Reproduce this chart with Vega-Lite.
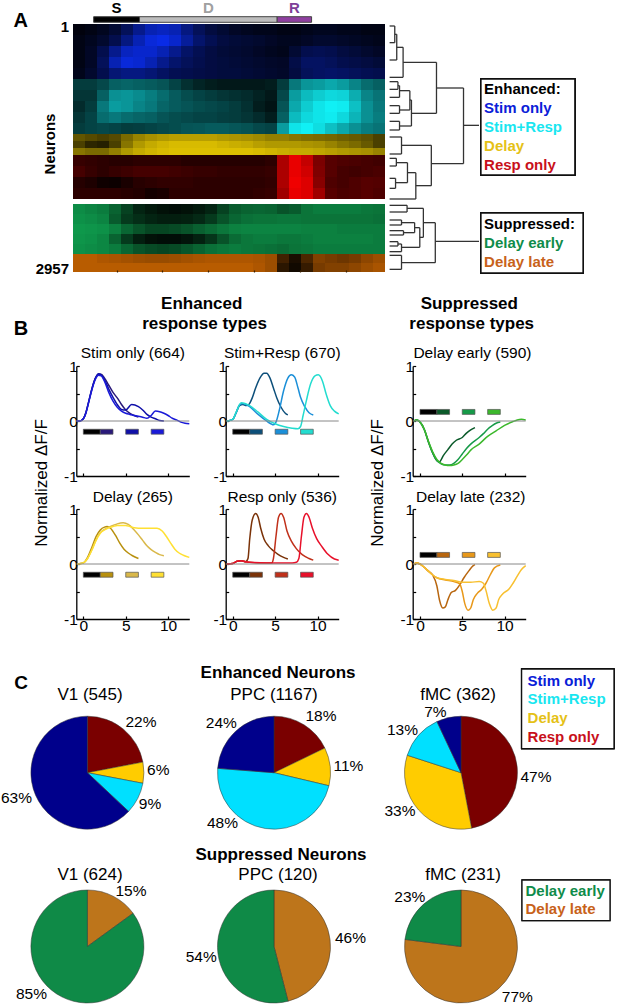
{"$schema":"https://vega.github.io/schema/vega-lite/v6.json","width":617,"height":1008,"padding":0,"autosize":{"type":"none"},"background":"white",
"config":{"font":"Liberation Sans","view":{"stroke":null},"text":{"font":"Liberation Sans","color":"#000","baseline":"middle"},"axis":{"grid":false,"domainColor":"#000","domainWidth":1.3,"tickColor":"#000","tickWidth":1.2,"labelColor":"#000","labelFont":"Liberation Sans","labelFontSize":15.5,"title":null}},
"datasets":{
"epochs":[{"name":"S","s":0,"e":2,"mid":1},{"name":"D","s":2,"e":8,"mid":5},{"name":"R","s":8,"e":9.5,"mid":8.75}],
"B":[
{"r":1,"t":1,"v":5},{"r":1,"t":2,"v":8},{"r":1,"t":3,"v":12},{"r":1,"t":4,"v":20},{"r":1,"t":5,"v":35},{"r":1,"t":6,"v":55},{"r":1,"t":7,"v":70},{"r":1,"t":8,"v":75},{"r":1,"t":9,"v":70},{"r":1,"t":10,"v":50},{"r":1,"t":11,"v":35},{"r":1,"t":12,"v":25},{"r":1,"t":13,"v":20},{"r":1,"t":14,"v":15},{"r":1,"t":15,"v":12},{"r":1,"t":16,"v":10},{"r":1,"t":17,"v":10},{"r":1,"t":18,"v":8},{"r":1,"t":19,"v":8},{"r":1,"t":20,"v":10},{"r":1,"t":21,"v":12},{"r":1,"t":22,"v":12},{"r":1,"t":23,"v":10},{"r":1,"t":24,"v":10},{"r":1,"t":25,"v":8},{"r":1,"t":26,"v":8},
{"r":2,"t":1,"v":8},{"r":2,"t":2,"v":12},{"r":2,"t":3,"v":18},{"r":2,"t":4,"v":30},{"r":2,"t":5,"v":50},{"r":2,"t":6,"v":70},{"r":2,"t":7,"v":85},{"r":2,"t":8,"v":90},{"r":2,"t":9,"v":80},{"r":2,"t":10,"v":60},{"r":2,"t":11,"v":42},{"r":2,"t":12,"v":32},{"r":2,"t":13,"v":25},{"r":2,"t":14,"v":22},{"r":2,"t":15,"v":20},{"r":2,"t":16,"v":18},{"r":2,"t":17,"v":15},{"r":2,"t":18,"v":12},{"r":2,"t":19,"v":12},{"r":2,"t":20,"v":15},{"r":2,"t":21,"v":18},{"r":2,"t":22,"v":18},{"r":2,"t":23,"v":16},{"r":2,"t":24,"v":14},{"r":2,"t":25,"v":12},{"r":2,"t":26,"v":10},
{"r":3,"t":1,"v":8},{"r":3,"t":2,"v":15},{"r":3,"t":3,"v":30},{"r":3,"t":4,"v":55},{"r":3,"t":5,"v":75},{"r":3,"t":6,"v":80},{"r":3,"t":7,"v":80},{"r":3,"t":8,"v":70},{"r":3,"t":9,"v":55},{"r":3,"t":10,"v":40},{"r":3,"t":11,"v":32},{"r":3,"t":12,"v":26},{"r":3,"t":13,"v":22},{"r":3,"t":14,"v":20},{"r":3,"t":15,"v":18},{"r":3,"t":16,"v":15},{"r":3,"t":17,"v":12},{"r":3,"t":18,"v":10},{"r":3,"t":19,"v":20},{"r":3,"t":20,"v":30},{"r":3,"t":21,"v":32},{"r":3,"t":22,"v":30},{"r":3,"t":23,"v":25},{"r":3,"t":24,"v":22},{"r":3,"t":25,"v":18},{"r":3,"t":26,"v":15},
{"r":4,"t":1,"v":8},{"r":4,"t":2,"v":15},{"r":4,"t":3,"v":35},{"r":4,"t":4,"v":70},{"r":4,"t":5,"v":85},{"r":4,"t":6,"v":82},{"r":4,"t":7,"v":70},{"r":4,"t":8,"v":55},{"r":4,"t":9,"v":42},{"r":4,"t":10,"v":35},{"r":4,"t":11,"v":30},{"r":4,"t":12,"v":26},{"r":4,"t":13,"v":24},{"r":4,"t":14,"v":22},{"r":4,"t":15,"v":20},{"r":4,"t":16,"v":18},{"r":4,"t":17,"v":16},{"r":4,"t":18,"v":15},{"r":4,"t":19,"v":28},{"r":4,"t":20,"v":38},{"r":4,"t":21,"v":38},{"r":4,"t":22,"v":35},{"r":4,"t":23,"v":30},{"r":4,"t":24,"v":28},{"r":4,"t":25,"v":25},{"r":4,"t":26,"v":22},
{"r":5,"t":1,"v":10},{"r":5,"t":2,"v":18},{"r":5,"t":3,"v":30},{"r":5,"t":4,"v":45},{"r":5,"t":5,"v":50},{"r":5,"t":6,"v":50},{"r":5,"t":7,"v":45},{"r":5,"t":8,"v":38},{"r":5,"t":9,"v":32},{"r":5,"t":10,"v":30},{"r":5,"t":11,"v":28},{"r":5,"t":12,"v":26},{"r":5,"t":13,"v":24},{"r":5,"t":14,"v":24},{"r":5,"t":15,"v":22},{"r":5,"t":16,"v":20},{"r":5,"t":17,"v":18},{"r":5,"t":18,"v":16},{"r":5,"t":19,"v":25},{"r":5,"t":20,"v":35},{"r":5,"t":21,"v":38},{"r":5,"t":22,"v":40},{"r":5,"t":23,"v":38},{"r":5,"t":24,"v":35},{"r":5,"t":25,"v":32},{"r":5,"t":26,"v":30}],
"C":[
{"r":1,"t":1,"v":25},{"r":1,"t":2,"v":25},{"r":1,"t":3,"v":30},{"r":1,"t":4,"v":40},{"r":1,"t":5,"v":42},{"r":1,"t":6,"v":40},{"r":1,"t":7,"v":38},{"r":1,"t":8,"v":35},{"r":1,"t":9,"v":28},{"r":1,"t":10,"v":20},{"r":1,"t":11,"v":15},{"r":1,"t":12,"v":12},{"r":1,"t":13,"v":10},{"r":1,"t":14,"v":10},{"r":1,"t":15,"v":10},{"r":1,"t":16,"v":10},{"r":1,"t":17,"v":12},{"r":1,"t":18,"v":25},{"r":1,"t":19,"v":50},{"r":1,"t":20,"v":62},{"r":1,"t":21,"v":65},{"r":1,"t":22,"v":70},{"r":1,"t":23,"v":65},{"r":1,"t":24,"v":55},{"r":1,"t":25,"v":45},{"r":1,"t":26,"v":40},
{"r":2,"t":1,"v":22},{"r":2,"t":2,"v":22},{"r":2,"t":3,"v":40},{"r":2,"t":4,"v":60},{"r":2,"t":5,"v":62},{"r":2,"t":6,"v":58},{"r":2,"t":7,"v":52},{"r":2,"t":8,"v":45},{"r":2,"t":9,"v":38},{"r":2,"t":10,"v":32},{"r":2,"t":11,"v":28},{"r":2,"t":12,"v":25},{"r":2,"t":13,"v":22},{"r":2,"t":14,"v":20},{"r":2,"t":15,"v":18},{"r":2,"t":16,"v":14},{"r":2,"t":17,"v":10},{"r":2,"t":18,"v":30},{"r":2,"t":19,"v":65},{"r":2,"t":20,"v":78},{"r":2,"t":21,"v":85},{"r":2,"t":22,"v":90},{"r":2,"t":23,"v":88},{"r":2,"t":24,"v":72},{"r":2,"t":25,"v":55},{"r":2,"t":26,"v":48},
{"r":3,"t":1,"v":18},{"r":3,"t":2,"v":25},{"r":3,"t":3,"v":50},{"r":3,"t":4,"v":65},{"r":3,"t":5,"v":62},{"r":3,"t":6,"v":55},{"r":3,"t":7,"v":50},{"r":3,"t":8,"v":42},{"r":3,"t":9,"v":38},{"r":3,"t":10,"v":35},{"r":3,"t":11,"v":32},{"r":3,"t":12,"v":30},{"r":3,"t":13,"v":28},{"r":3,"t":14,"v":25},{"r":3,"t":15,"v":20},{"r":3,"t":16,"v":12},{"r":3,"t":17,"v":8},{"r":3,"t":18,"v":35},{"r":3,"t":19,"v":70},{"r":3,"t":20,"v":85},{"r":3,"t":21,"v":95},{"r":3,"t":22,"v":100},{"r":3,"t":23,"v":98},{"r":3,"t":24,"v":80},{"r":3,"t":25,"v":60},{"r":3,"t":26,"v":50},
{"r":4,"t":1,"v":22},{"r":4,"t":2,"v":28},{"r":4,"t":3,"v":45},{"r":4,"t":4,"v":50},{"r":4,"t":5,"v":45},{"r":4,"t":6,"v":42},{"r":4,"t":7,"v":40},{"r":4,"t":8,"v":35},{"r":4,"t":9,"v":32},{"r":4,"t":10,"v":30},{"r":4,"t":11,"v":28},{"r":4,"t":12,"v":28},{"r":4,"t":13,"v":26},{"r":4,"t":14,"v":25},{"r":4,"t":15,"v":22},{"r":4,"t":16,"v":18},{"r":4,"t":17,"v":12},{"r":4,"t":18,"v":40},{"r":4,"t":19,"v":78},{"r":4,"t":20,"v":90},{"r":4,"t":21,"v":95},{"r":4,"t":22,"v":98},{"r":4,"t":23,"v":90},{"r":4,"t":24,"v":75},{"r":4,"t":25,"v":60},{"r":4,"t":26,"v":52},
{"r":5,"t":1,"v":25},{"r":5,"t":2,"v":28},{"r":5,"t":3,"v":30},{"r":5,"t":4,"v":28},{"r":5,"t":5,"v":25},{"r":5,"t":6,"v":26},{"r":5,"t":7,"v":28},{"r":5,"t":8,"v":30},{"r":5,"t":9,"v":32},{"r":5,"t":10,"v":35},{"r":5,"t":11,"v":36},{"r":5,"t":12,"v":38},{"r":5,"t":13,"v":38},{"r":5,"t":14,"v":36},{"r":5,"t":15,"v":34},{"r":5,"t":16,"v":30},{"r":5,"t":17,"v":28},{"r":5,"t":18,"v":65},{"r":5,"t":19,"v":95},{"r":5,"t":20,"v":100},{"r":5,"t":21,"v":92},{"r":5,"t":22,"v":80},{"r":5,"t":23,"v":70},{"r":5,"t":24,"v":60},{"r":5,"t":25,"v":52},{"r":5,"t":26,"v":48}],
"Y":[
{"r":1,"t":1,"v":40},{"r":1,"t":2,"v":35},{"r":1,"t":3,"v":30},{"r":1,"t":4,"v":35},{"r":1,"t":5,"v":50},{"r":1,"t":6,"v":62},{"r":1,"t":7,"v":68},{"r":1,"t":8,"v":72},{"r":1,"t":9,"v":75},{"r":1,"t":10,"v":75},{"r":1,"t":11,"v":75},{"r":1,"t":12,"v":75},{"r":1,"t":13,"v":72},{"r":1,"t":14,"v":70},{"r":1,"t":15,"v":68},{"r":1,"t":16,"v":65},{"r":1,"t":17,"v":60},{"r":1,"t":18,"v":60},{"r":1,"t":19,"v":55},{"r":1,"t":20,"v":52},{"r":1,"t":21,"v":50},{"r":1,"t":22,"v":48},{"r":1,"t":23,"v":45},{"r":1,"t":24,"v":42},{"r":1,"t":25,"v":38},{"r":1,"t":26,"v":30},
{"r":2,"t":1,"v":30},{"r":2,"t":2,"v":18},{"r":2,"t":3,"v":15},{"r":2,"t":4,"v":30},{"r":2,"t":5,"v":55},{"r":2,"t":6,"v":72},{"r":2,"t":7,"v":80},{"r":2,"t":8,"v":85},{"r":2,"t":9,"v":88},{"r":2,"t":10,"v":88},{"r":2,"t":11,"v":88},{"r":2,"t":12,"v":88},{"r":2,"t":13,"v":85},{"r":2,"t":14,"v":82},{"r":2,"t":15,"v":80},{"r":2,"t":16,"v":75},{"r":2,"t":17,"v":72},{"r":2,"t":18,"v":72},{"r":2,"t":19,"v":72},{"r":2,"t":20,"v":70},{"r":2,"t":21,"v":68},{"r":2,"t":22,"v":62},{"r":2,"t":23,"v":55},{"r":2,"t":24,"v":50},{"r":2,"t":25,"v":42},{"r":2,"t":26,"v":30},
{"r":3,"t":1,"v":55},{"r":3,"t":2,"v":50},{"r":3,"t":3,"v":50},{"r":3,"t":4,"v":60},{"r":3,"t":5,"v":72},{"r":3,"t":6,"v":80},{"r":3,"t":7,"v":85},{"r":3,"t":8,"v":88},{"r":3,"t":9,"v":90},{"r":3,"t":10,"v":90},{"r":3,"t":11,"v":90},{"r":3,"t":12,"v":90},{"r":3,"t":13,"v":90},{"r":3,"t":14,"v":90},{"r":3,"t":15,"v":90},{"r":3,"t":16,"v":88},{"r":3,"t":17,"v":85},{"r":3,"t":18,"v":82},{"r":3,"t":19,"v":80},{"r":3,"t":20,"v":80},{"r":3,"t":21,"v":78},{"r":3,"t":22,"v":75},{"r":3,"t":23,"v":72},{"r":3,"t":24,"v":70},{"r":3,"t":25,"v":68},{"r":3,"t":26,"v":62}],
"R":[
{"r":1,"t":1,"v":22},{"r":1,"t":2,"v":20},{"r":1,"t":3,"v":18},{"r":1,"t":4,"v":16},{"r":1,"t":5,"v":16},{"r":1,"t":6,"v":18},{"r":1,"t":7,"v":18},{"r":1,"t":8,"v":18},{"r":1,"t":9,"v":18},{"r":1,"t":10,"v":15},{"r":1,"t":11,"v":15},{"r":1,"t":12,"v":15},{"r":1,"t":13,"v":15},{"r":1,"t":14,"v":15},{"r":1,"t":15,"v":15},{"r":1,"t":16,"v":15},{"r":1,"t":17,"v":18},{"r":1,"t":18,"v":70},{"r":1,"t":19,"v":95},{"r":1,"t":20,"v":80},{"r":1,"t":21,"v":50},{"r":1,"t":22,"v":35},{"r":1,"t":23,"v":32},{"r":1,"t":24,"v":30},{"r":1,"t":25,"v":28},{"r":1,"t":26,"v":26},
{"r":2,"t":1,"v":28},{"r":2,"t":2,"v":22},{"r":2,"t":3,"v":18},{"r":2,"t":4,"v":22},{"r":2,"t":5,"v":25},{"r":2,"t":6,"v":28},{"r":2,"t":7,"v":28},{"r":2,"t":8,"v":28},{"r":2,"t":9,"v":26},{"r":2,"t":10,"v":24},{"r":2,"t":11,"v":22},{"r":2,"t":12,"v":22},{"r":2,"t":13,"v":20},{"r":2,"t":14,"v":20},{"r":2,"t":15,"v":20},{"r":2,"t":16,"v":20},{"r":2,"t":17,"v":22},{"r":2,"t":18,"v":70},{"r":2,"t":19,"v":95},{"r":2,"t":20,"v":85},{"r":2,"t":21,"v":52},{"r":2,"t":22,"v":35},{"r":2,"t":23,"v":28},{"r":2,"t":24,"v":26},{"r":2,"t":25,"v":28},{"r":2,"t":26,"v":30},
{"r":3,"t":1,"v":15},{"r":3,"t":2,"v":12},{"r":3,"t":3,"v":6},{"r":3,"t":4,"v":5},{"r":3,"t":5,"v":10},{"r":3,"t":6,"v":16},{"r":3,"t":7,"v":18},{"r":3,"t":8,"v":20},{"r":3,"t":9,"v":20},{"r":3,"t":10,"v":20},{"r":3,"t":11,"v":18},{"r":3,"t":12,"v":18},{"r":3,"t":13,"v":18},{"r":3,"t":14,"v":18},{"r":3,"t":15,"v":18},{"r":3,"t":16,"v":18},{"r":3,"t":17,"v":20},{"r":3,"t":18,"v":70},{"r":3,"t":19,"v":98},{"r":3,"t":20,"v":90},{"r":3,"t":21,"v":55},{"r":3,"t":22,"v":32},{"r":3,"t":23,"v":28},{"r":3,"t":24,"v":32},{"r":3,"t":25,"v":35},{"r":3,"t":26,"v":34},
{"r":4,"t":1,"v":18},{"r":4,"t":2,"v":18},{"r":4,"t":3,"v":18},{"r":4,"t":4,"v":18},{"r":4,"t":5,"v":16},{"r":4,"t":6,"v":14},{"r":4,"t":7,"v":8},{"r":4,"t":8,"v":10},{"r":4,"t":9,"v":18},{"r":4,"t":10,"v":18},{"r":4,"t":11,"v":18},{"r":4,"t":12,"v":18},{"r":4,"t":13,"v":18},{"r":4,"t":14,"v":18},{"r":4,"t":15,"v":18},{"r":4,"t":16,"v":20},{"r":4,"t":17,"v":22},{"r":4,"t":18,"v":65},{"r":4,"t":19,"v":95},{"r":4,"t":20,"v":90},{"r":4,"t":21,"v":65},{"r":4,"t":22,"v":35},{"r":4,"t":23,"v":30},{"r":4,"t":24,"v":32},{"r":4,"t":25,"v":35},{"r":4,"t":26,"v":32}],
"G":[
{"r":1,"t":1,"v":85},{"r":1,"t":2,"v":80},{"r":1,"t":3,"v":75},{"r":1,"t":4,"v":60},{"r":1,"t":5,"v":40},{"r":1,"t":6,"v":22},{"r":1,"t":7,"v":15},{"r":1,"t":8,"v":10},{"r":1,"t":9,"v":8},{"r":1,"t":10,"v":10},{"r":1,"t":11,"v":15},{"r":1,"t":12,"v":22},{"r":1,"t":13,"v":40},{"r":1,"t":14,"v":55},{"r":1,"t":15,"v":60},{"r":1,"t":16,"v":62},{"r":1,"t":17,"v":60},{"r":1,"t":18,"v":50},{"r":1,"t":19,"v":55},{"r":1,"t":20,"v":70},{"r":1,"t":21,"v":75},{"r":1,"t":22,"v":75},{"r":1,"t":23,"v":75},{"r":1,"t":24,"v":75},{"r":1,"t":25,"v":72},{"r":1,"t":26,"v":70},
{"r":2,"t":1,"v":88},{"r":2,"t":2,"v":85},{"r":2,"t":3,"v":80},{"r":2,"t":4,"v":55},{"r":2,"t":5,"v":35},{"r":2,"t":6,"v":28},{"r":2,"t":7,"v":22},{"r":2,"t":8,"v":18},{"r":2,"t":9,"v":18},{"r":2,"t":10,"v":20},{"r":2,"t":11,"v":25},{"r":2,"t":12,"v":35},{"r":2,"t":13,"v":50},{"r":2,"t":14,"v":62},{"r":2,"t":15,"v":68},{"r":2,"t":16,"v":70},{"r":2,"t":17,"v":70},{"r":2,"t":18,"v":72},{"r":2,"t":19,"v":72},{"r":2,"t":20,"v":70},{"r":2,"t":21,"v":70},{"r":2,"t":22,"v":70},{"r":2,"t":23,"v":70},{"r":2,"t":24,"v":70},{"r":2,"t":25,"v":70},{"r":2,"t":26,"v":68},
{"r":3,"t":1,"v":92},{"r":3,"t":2,"v":90},{"r":3,"t":3,"v":88},{"r":3,"t":4,"v":78},{"r":3,"t":5,"v":62},{"r":3,"t":6,"v":50},{"r":3,"t":7,"v":42},{"r":3,"t":8,"v":42},{"r":3,"t":9,"v":45},{"r":3,"t":10,"v":50},{"r":3,"t":11,"v":58},{"r":3,"t":12,"v":65},{"r":3,"t":13,"v":72},{"r":3,"t":14,"v":78},{"r":3,"t":15,"v":80},{"r":3,"t":16,"v":80},{"r":3,"t":17,"v":80},{"r":3,"t":18,"v":80},{"r":3,"t":19,"v":80},{"r":3,"t":20,"v":78},{"r":3,"t":21,"v":78},{"r":3,"t":22,"v":78},{"r":3,"t":23,"v":75},{"r":3,"t":24,"v":75},{"r":3,"t":25,"v":75},{"r":3,"t":26,"v":75},
{"r":4,"t":1,"v":90},{"r":4,"t":2,"v":88},{"r":4,"t":3,"v":82},{"r":4,"t":4,"v":60},{"r":4,"t":5,"v":35},{"r":4,"t":6,"v":18},{"r":4,"t":7,"v":10},{"r":4,"t":8,"v":8},{"r":4,"t":9,"v":8},{"r":4,"t":10,"v":12},{"r":4,"t":11,"v":20},{"r":4,"t":12,"v":32},{"r":4,"t":13,"v":50},{"r":4,"t":14,"v":65},{"r":4,"t":15,"v":72},{"r":4,"t":16,"v":75},{"r":4,"t":17,"v":75},{"r":4,"t":18,"v":72},{"r":4,"t":19,"v":72},{"r":4,"t":20,"v":75},{"r":4,"t":21,"v":78},{"r":4,"t":22,"v":78},{"r":4,"t":23,"v":78},{"r":4,"t":24,"v":78},{"r":4,"t":25,"v":78},{"r":4,"t":26,"v":75},
{"r":5,"t":1,"v":88},{"r":5,"t":2,"v":85},{"r":5,"t":3,"v":82},{"r":5,"t":4,"v":75},{"r":5,"t":5,"v":62},{"r":5,"t":6,"v":50},{"r":5,"t":7,"v":45},{"r":5,"t":8,"v":42},{"r":5,"t":9,"v":45},{"r":5,"t":10,"v":52},{"r":5,"t":11,"v":60},{"r":5,"t":12,"v":68},{"r":5,"t":13,"v":72},{"r":5,"t":14,"v":75},{"r":5,"t":15,"v":72},{"r":5,"t":16,"v":70},{"r":5,"t":17,"v":68},{"r":5,"t":18,"v":65},{"r":5,"t":19,"v":70},{"r":5,"t":20,"v":72},{"r":5,"t":21,"v":75},{"r":5,"t":22,"v":75},{"r":5,"t":23,"v":75},{"r":5,"t":24,"v":75},{"r":5,"t":25,"v":75},{"r":5,"t":26,"v":75}],
"O":[
{"r":1,"t":1,"v":85},{"r":1,"t":2,"v":85},{"r":1,"t":3,"v":80},{"r":1,"t":4,"v":78},{"r":1,"t":5,"v":75},{"r":1,"t":6,"v":72},{"r":1,"t":7,"v":70},{"r":1,"t":8,"v":70},{"r":1,"t":9,"v":72},{"r":1,"t":10,"v":75},{"r":1,"t":11,"v":78},{"r":1,"t":12,"v":80},{"r":1,"t":13,"v":80},{"r":1,"t":14,"v":80},{"r":1,"t":15,"v":80},{"r":1,"t":16,"v":78},{"r":1,"t":17,"v":72},{"r":1,"t":18,"v":30},{"r":1,"t":19,"v":12},{"r":1,"t":20,"v":35},{"r":1,"t":21,"v":60},{"r":1,"t":22,"v":55},{"r":1,"t":23,"v":50},{"r":1,"t":24,"v":55},{"r":1,"t":25,"v":65},{"r":1,"t":26,"v":72},
{"r":2,"t":1,"v":85},{"r":2,"t":2,"v":85},{"r":2,"t":3,"v":85},{"r":2,"t":4,"v":85},{"r":2,"t":5,"v":85},{"r":2,"t":6,"v":85},{"r":2,"t":7,"v":85},{"r":2,"t":8,"v":85},{"r":2,"t":9,"v":85},{"r":2,"t":10,"v":85},{"r":2,"t":11,"v":85},{"r":2,"t":12,"v":85},{"r":2,"t":13,"v":85},{"r":2,"t":14,"v":85},{"r":2,"t":15,"v":85},{"r":2,"t":16,"v":80},{"r":2,"t":17,"v":72},{"r":2,"t":18,"v":20},{"r":2,"t":19,"v":8},{"r":2,"t":20,"v":25},{"r":2,"t":21,"v":55},{"r":2,"t":22,"v":60},{"r":2,"t":23,"v":60},{"r":2,"t":24,"v":65},{"r":2,"t":25,"v":72},{"r":2,"t":26,"v":78}],
"dh":[{"a":982,"b":995,"c":78},{"a":982,"b":995,"c":128},{"a":995,"b":1000,"c":103},{"a":982,"b":1000,"c":180},{"a":1000,"b":1016,"c":142},{"a":982,"b":1016,"c":232},{"a":1016,"b":1100,"c":187},{"a":982,"b":1003,"c":245},{"a":982,"b":1003,"c":268},{"a":1003,"b":1007,"c":257},{"a":982,"b":1007,"c":292},{"a":982,"b":1007,"c":317},{"a":982,"b":1007,"c":340},{"a":1007,"b":1033,"c":272},{"a":1007,"b":1033,"c":330},{"a":982,"b":1007,"c":364},{"a":982,"b":1007,"c":390},{"a":1033,"b":1037,"c":300},{"a":1007,"b":1037,"c":378},{"a":1037,"b":1100,"c":340},{"a":1100,"b":1168,"c":264},{"a":982,"b":1012,"c":411},{"a":982,"b":1012,"c":462},{"a":1012,"b":1087,"c":436},{"a":982,"b":999,"c":475},{"a":982,"b":999,"c":498},{"a":999,"b":1027,"c":488},{"a":982,"b":997,"c":535},{"a":982,"b":997,"c":565},{"a":997,"b":1027,"c":548},{"a":1027,"b":1048,"c":518},{"a":982,"b":1048,"c":597},{"a":1048,"b":1087,"c":557},{"a":1087,"b":1168,"c":491},{"a":1168,"b":1207,"c":376},{"a":982,"b":1026,"c":616},{"a":982,"b":1026,"c":636},{"a":1026,"b":1067,"c":625},{"a":982,"b":1012,"c":660},{"a":982,"b":1012,"c":675},{"a":1012,"b":1045,"c":668},{"a":982,"b":1017,"c":692},{"a":982,"b":1017,"c":705},{"a":1017,"b":1045,"c":698},{"a":1045,"b":1058,"c":683},{"a":982,"b":1003,"c":725},{"a":982,"b":1003,"c":738},{"a":1003,"b":1012,"c":732},{"a":982,"b":1012,"c":755},{"a":1012,"b":1058,"c":742},{"a":1058,"b":1067,"c":712},{"a":1067,"b":1097,"c":668},{"a":982,"b":1012,"c":766},{"a":982,"b":1012,"c":808},{"a":1012,"b":1097,"c":788},{"a":1097,"b":1207,"c":724}],
"dv":[{"a":995,"c":78,"d":128},{"a":1000,"c":103,"d":180},{"a":1016,"c":142,"d":232},{"a":1100,"c":187,"d":340},{"a":1003,"c":245,"d":268},{"a":1007,"c":257,"d":292},{"a":1007,"c":317,"d":340},{"a":1033,"c":272,"d":330},{"a":1007,"c":364,"d":390},{"a":1037,"c":300,"d":378},{"a":1168,"c":264,"d":491},{"a":1012,"c":411,"d":462},{"a":999,"c":475,"d":498},{"a":997,"c":535,"d":565},{"a":1027,"c":488,"d":548},{"a":1048,"c":518,"d":597},{"a":1087,"c":436,"d":557},{"a":1026,"c":616,"d":636},{"a":1012,"c":660,"d":675},{"a":1017,"c":692,"d":705},{"a":1045,"c":668,"d":698},{"a":1058,"c":683,"d":742},{"a":1003,"c":725,"d":738},{"a":1012,"c":732,"d":755},{"a":1067,"c":625,"d":712},{"a":1012,"c":766,"d":808},{"a":1097,"c":668,"d":788}],
"bars":[{"g":"k","s":0,"e":2},{"g":"a","s":2,"e":3.5},{"g":"b","s":5,"e":6.5},{"g":"c","s":8,"e":9.5}],
"L1":[{"g":"a","t":-0.8,"v":0},{"g":"a","t":-0.4,"v":0},{"g":"a","t":0,"v":0.04},{"g":"a","t":0.3,"v":0.15},{"g":"a","t":0.6,"v":0.33},{"g":"a","t":1,"v":0.58},{"g":"a","t":1.4,"v":0.77},{"g":"a","t":1.8,"v":0.85},{"g":"a","t":2.1,"v":0.85},{"g":"a","t":2.5,"v":0.78},{"g":"a","t":3,"v":0.65},{"g":"a","t":3.5,"v":0.52},{"g":"a","t":4,"v":0.42},{"g":"a","t":4.5,"v":0.3},{"g":"a","t":5,"v":0.2},{"g":"a","t":5.5,"v":0.14},{"g":"a","t":6,"v":0.1},{"g":"a","t":6.5,"v":0.07},
{"g":"b","t":-0.8,"v":0},{"g":"b","t":-0.4,"v":0},{"g":"b","t":0,"v":0.04},{"g":"b","t":0.3,"v":0.15},{"g":"b","t":0.6,"v":0.33},{"g":"b","t":1,"v":0.58},{"g":"b","t":1.4,"v":0.77},{"g":"b","t":1.8,"v":0.86},{"g":"b","t":2.1,"v":0.84},{"g":"b","t":2.5,"v":0.75},{"g":"b","t":3,"v":0.58},{"g":"b","t":3.5,"v":0.43},{"g":"b","t":4,"v":0.3},{"g":"b","t":4.5,"v":0.21},{"g":"b","t":5,"v":0.2},{"g":"b","t":5.7,"v":0.3},{"g":"b","t":6.5,"v":0.26},{"g":"b","t":7,"v":0.2},{"g":"b","t":7.5,"v":0.12},{"g":"b","t":8,"v":0.07},{"g":"b","t":8.5,"v":0.04},{"g":"b","t":9,"v":0.01},{"g":"b","t":9.5,"v":0},
{"g":"c","t":-0.8,"v":0},{"g":"c","t":-0.4,"v":0},{"g":"c","t":0,"v":0.04},{"g":"c","t":0.3,"v":0.14},{"g":"c","t":0.6,"v":0.32},{"g":"c","t":1,"v":0.56},{"g":"c","t":1.4,"v":0.75},{"g":"c","t":1.8,"v":0.83},{"g":"c","t":2.1,"v":0.82},{"g":"c","t":2.5,"v":0.72},{"g":"c","t":3,"v":0.52},{"g":"c","t":3.5,"v":0.36},{"g":"c","t":4,"v":0.25},{"g":"c","t":4.5,"v":0.18},{"g":"c","t":5,"v":0.14},{"g":"c","t":5.5,"v":0.12},{"g":"c","t":6,"v":0.1},{"g":"c","t":7,"v":0.07},{"g":"c","t":7.5,"v":0.05},{"g":"c","t":8,"v":0.1},{"g":"c","t":8.5,"v":0.18},{"g":"c","t":9,"v":0.17},{"g":"c","t":9.5,"v":0.14},{"g":"c","t":10,"v":0.1},{"g":"c","t":10.5,"v":0.05},{"g":"c","t":11,"v":0.02},{"g":"c","t":11.5,"v":-0.02},{"g":"c","t":12,"v":-0.04},{"g":"c","t":12.5,"v":-0.05}],
"L2":[{"g":"a","t":-0.7,"v":0},{"g":"a","t":0,"v":0.03},{"g":"a","t":0.4,"v":0.15},{"g":"a","t":0.8,"v":0.28},{"g":"a","t":1.2,"v":0.3},{"g":"a","t":1.6,"v":0.28},{"g":"a","t":1.9,"v":0.3},{"g":"a","t":2.3,"v":0.42},{"g":"a","t":2.7,"v":0.6},{"g":"a","t":3.2,"v":0.78},{"g":"a","t":3.7,"v":0.87},{"g":"a","t":4,"v":0.87},{"g":"a","t":4.4,"v":0.78},{"g":"a","t":4.8,"v":0.6},{"g":"a","t":5.2,"v":0.42},{"g":"a","t":5.7,"v":0.25},{"g":"a","t":6.2,"v":0.14},{"g":"a","t":6.5,"v":0.11},
{"g":"b","t":-0.7,"v":0},{"g":"b","t":0,"v":0.03},{"g":"b","t":0.4,"v":0.15},{"g":"b","t":0.8,"v":0.29},{"g":"b","t":1.2,"v":0.32},{"g":"b","t":2,"v":0.26},{"g":"b","t":3,"v":0.12},{"g":"b","t":4,"v":0},{"g":"b","t":4.5,"v":-0.05},{"g":"b","t":4.8,"v":-0.07},{"g":"b","t":5.1,"v":-0.02},{"g":"b","t":5.5,"v":0.2},{"g":"b","t":6,"v":0.55},{"g":"b","t":6.5,"v":0.78},{"g":"b","t":6.9,"v":0.84},{"g":"b","t":7.3,"v":0.8},{"g":"b","t":7.7,"v":0.6},{"g":"b","t":8,"v":0.43},{"g":"b","t":8.5,"v":0.26},{"g":"b","t":9,"v":0.15},{"g":"b","t":9.5,"v":0.11},
{"g":"c","t":-0.7,"v":0},{"g":"c","t":0,"v":0.03},{"g":"c","t":0.4,"v":0.16},{"g":"c","t":1,"v":0.33},{"g":"c","t":2,"v":0.28},{"g":"c","t":3,"v":0.16},{"g":"c","t":4,"v":0.03},{"g":"c","t":5,"v":-0.05},{"g":"c","t":6,"v":-0.1},{"g":"c","t":7,"v":-0.13},{"g":"c","t":7.7,"v":-0.14},{"g":"c","t":8,"v":-0.1},{"g":"c","t":8.3,"v":0.1},{"g":"c","t":8.7,"v":0.38},{"g":"c","t":9.2,"v":0.68},{"g":"c","t":9.7,"v":0.82},{"g":"c","t":10.1,"v":0.84},{"g":"c","t":10.6,"v":0.72},{"g":"c","t":11,"v":0.5},{"g":"c","t":11.5,"v":0.28},{"g":"c","t":12,"v":0.18},{"g":"c","t":12.5,"v":0.13}],
"L3":[{"g":"a","t":-0.7,"v":0},{"g":"a","t":0,"v":0.02},{"g":"a","t":0.5,"v":0.12},{"g":"a","t":1,"v":0.3},{"g":"a","t":1.5,"v":0.5},{"g":"a","t":2,"v":0.62},{"g":"a","t":2.5,"v":0.67},{"g":"a","t":2.8,"v":0.68},{"g":"a","t":3.2,"v":0.65},{"g":"a","t":3.8,"v":0.52},{"g":"a","t":4.3,"v":0.38},{"g":"a","t":4.8,"v":0.27},{"g":"a","t":5.3,"v":0.2},{"g":"a","t":5.8,"v":0.15},{"g":"a","t":6.5,"v":0.1},
{"g":"b","t":-0.7,"v":0},{"g":"b","t":0,"v":0.02},{"g":"b","t":0.5,"v":0.1},{"g":"b","t":1,"v":0.26},{"g":"b","t":1.5,"v":0.44},{"g":"b","t":2,"v":0.57},{"g":"b","t":2.5,"v":0.63},{"g":"b","t":3,"v":0.67},{"g":"b","t":3.5,"v":0.7},{"g":"b","t":4,"v":0.73},{"g":"b","t":4.7,"v":0.75},{"g":"b","t":5.3,"v":0.72},{"g":"b","t":6,"v":0.62},{"g":"b","t":6.5,"v":0.53},{"g":"b","t":7,"v":0.43},{"g":"b","t":7.5,"v":0.33},{"g":"b","t":8,"v":0.26},{"g":"b","t":8.5,"v":0.21},{"g":"b","t":9,"v":0.17},{"g":"b","t":9.5,"v":0.15},
{"g":"c","t":-0.7,"v":0},{"g":"c","t":0,"v":0.02},{"g":"c","t":0.5,"v":0.1},{"g":"c","t":1,"v":0.25},{"g":"c","t":1.5,"v":0.43},{"g":"c","t":2,"v":0.56},{"g":"c","t":2.5,"v":0.62},{"g":"c","t":3,"v":0.66},{"g":"c","t":3.5,"v":0.68},{"g":"c","t":4,"v":0.7},{"g":"c","t":5,"v":0.7},{"g":"c","t":5.5,"v":0.68},{"g":"c","t":6,"v":0.66},{"g":"c","t":7,"v":0.65},{"g":"c","t":8,"v":0.65},{"g":"c","t":8.7,"v":0.65},{"g":"c","t":9.3,"v":0.6},{"g":"c","t":9.8,"v":0.5},{"g":"c","t":10.3,"v":0.38},{"g":"c","t":10.8,"v":0.27},{"g":"c","t":11.3,"v":0.2},{"g":"c","t":11.8,"v":0.16},{"g":"c","t":12.5,"v":0.12}],
"L4":[{"g":"a","t":-0.7,"v":0},{"g":"a","t":0,"v":0.01},{"g":"a","t":0.5,"v":0.05},{"g":"a","t":1,"v":0.06},{"g":"a","t":1.5,"v":0.04},{"g":"a","t":1.8,"v":0.1},{"g":"a","t":2,"v":0.45},{"g":"a","t":2.3,"v":0.8},{"g":"a","t":2.7,"v":0.92},{"g":"a","t":3,"v":0.85},{"g":"a","t":3.3,"v":0.65},{"g":"a","t":3.7,"v":0.45},{"g":"a","t":4.2,"v":0.33},{"g":"a","t":4.8,"v":0.24},{"g":"a","t":5.3,"v":0.18},{"g":"a","t":6,"v":0.12},{"g":"a","t":6.5,"v":0.09},
{"g":"b","t":-0.7,"v":0},{"g":"b","t":0,"v":0.01},{"g":"b","t":0.5,"v":0.05},{"g":"b","t":1,"v":0.06},{"g":"b","t":1.5,"v":0.04},{"g":"b","t":2,"v":0.03},{"g":"b","t":3,"v":0.02},{"g":"b","t":4,"v":0.02},{"g":"b","t":4.6,"v":0.02},{"g":"b","t":4.8,"v":0.1},{"g":"b","t":5.1,"v":0.5},{"g":"b","t":5.4,"v":0.85},{"g":"b","t":5.7,"v":0.92},{"g":"b","t":6,"v":0.85},{"g":"b","t":6.4,"v":0.6},{"g":"b","t":6.9,"v":0.42},{"g":"b","t":7.5,"v":0.28},{"g":"b","t":8.2,"v":0.17},{"g":"b","t":9,"v":0.1},{"g":"b","t":9.5,"v":0.07},
{"g":"c","t":-0.7,"v":0},{"g":"c","t":0,"v":0.01},{"g":"c","t":0.5,"v":0.05},{"g":"c","t":1,"v":0.06},{"g":"c","t":1.5,"v":0.04},{"g":"c","t":2,"v":0.03},{"g":"c","t":4,"v":0.02},{"g":"c","t":6,"v":0.02},{"g":"c","t":7,"v":0.02},{"g":"c","t":7.5,"v":0.03},{"g":"c","t":7.8,"v":0.1},{"g":"c","t":8.1,"v":0.5},{"g":"c","t":8.4,"v":0.85},{"g":"c","t":8.7,"v":0.92},{"g":"c","t":9,"v":0.85},{"g":"c","t":9.4,"v":0.65},{"g":"c","t":9.9,"v":0.46},{"g":"c","t":10.5,"v":0.32},{"g":"c","t":11.2,"v":0.18},{"g":"c","t":12,"v":0.09},{"g":"c","t":12.5,"v":0.07}],
"L5":[{"g":"a","t":-0.7,"v":0},{"g":"a","t":-0.4,"v":0.02},{"g":"a","t":0,"v":-0.02},{"g":"a","t":0.5,"v":-0.15},{"g":"a","t":1,"v":-0.38},{"g":"a","t":1.5,"v":-0.58},{"g":"a","t":2,"v":-0.72},{"g":"a","t":2.3,"v":-0.74},{"g":"a","t":2.8,"v":-0.62},{"g":"a","t":3.3,"v":-0.52},{"g":"a","t":3.8,"v":-0.42},{"g":"a","t":4.3,"v":-0.35},{"g":"a","t":5,"v":-0.3},{"g":"a","t":5.5,"v":-0.22},{"g":"a","t":6,"v":-0.16},{"g":"a","t":6.5,"v":-0.12},
{"g":"b","t":-0.7,"v":0},{"g":"b","t":-0.4,"v":0.02},{"g":"b","t":0,"v":-0.02},{"g":"b","t":0.5,"v":-0.15},{"g":"b","t":1,"v":-0.38},{"g":"b","t":1.5,"v":-0.58},{"g":"b","t":2,"v":-0.72},{"g":"b","t":2.5,"v":-0.78},{"g":"b","t":3,"v":-0.8},{"g":"b","t":3.5,"v":-0.8},{"g":"b","t":4,"v":-0.77},{"g":"b","t":4.5,"v":-0.7},{"g":"b","t":5,"v":-0.6},{"g":"b","t":5.5,"v":-0.5},{"g":"b","t":6,"v":-0.42},{"g":"b","t":7,"v":-0.3},{"g":"b","t":7.5,"v":-0.23},{"g":"b","t":8,"v":-0.15},{"g":"b","t":8.5,"v":-0.09},{"g":"b","t":9,"v":-0.04},{"g":"b","t":9.5,"v":-0.02},
{"g":"c","t":-0.7,"v":0},{"g":"c","t":-0.4,"v":0.02},{"g":"c","t":0,"v":-0.02},{"g":"c","t":0.5,"v":-0.15},{"g":"c","t":1,"v":-0.37},{"g":"c","t":1.5,"v":-0.56},{"g":"c","t":2,"v":-0.7},{"g":"c","t":2.5,"v":-0.77},{"g":"c","t":3,"v":-0.8},{"g":"c","t":3.5,"v":-0.81},{"g":"c","t":4,"v":-0.8},{"g":"c","t":4.5,"v":-0.77},{"g":"c","t":5,"v":-0.7},{"g":"c","t":5.5,"v":-0.62},{"g":"c","t":6,"v":-0.53},{"g":"c","t":7,"v":-0.42},{"g":"c","t":8,"v":-0.28},{"g":"c","t":9,"v":-0.18},{"g":"c","t":10,"v":-0.08},{"g":"c","t":11,"v":-0.01},{"g":"c","t":11.5,"v":0.02},{"g":"c","t":12,"v":0.03},{"g":"c","t":12.5,"v":0.02}],
"L6":[{"g":"a","t":-0.7,"v":0},{"g":"a","t":-0.4,"v":0.02},{"g":"a","t":0,"v":0},{"g":"a","t":0.5,"v":-0.06},{"g":"a","t":1,"v":-0.13},{"g":"a","t":1.5,"v":-0.2},{"g":"a","t":2,"v":-0.4},{"g":"a","t":2.3,"v":-0.65},{"g":"a","t":2.7,"v":-0.8},{"g":"a","t":3,"v":-0.78},{"g":"a","t":3.3,"v":-0.65},{"g":"a","t":3.7,"v":-0.52},{"g":"a","t":4.2,"v":-0.48},{"g":"a","t":4.7,"v":-0.38},{"g":"a","t":5.2,"v":-0.25},{"g":"a","t":5.8,"v":-0.12},{"g":"a","t":6.3,"v":-0.03},{"g":"a","t":6.5,"v":-0.01},
{"g":"b","t":-0.7,"v":0},{"g":"b","t":-0.4,"v":0.02},{"g":"b","t":0,"v":0},{"g":"b","t":0.5,"v":-0.06},{"g":"b","t":1,"v":-0.13},{"g":"b","t":1.5,"v":-0.2},{"g":"b","t":2,"v":-0.25},{"g":"b","t":3,"v":-0.29},{"g":"b","t":4,"v":-0.32},{"g":"b","t":4.7,"v":-0.36},{"g":"b","t":5,"v":-0.5},{"g":"b","t":5.3,"v":-0.72},{"g":"b","t":5.7,"v":-0.84},{"g":"b","t":6,"v":-0.8},{"g":"b","t":6.3,"v":-0.65},{"g":"b","t":6.8,"v":-0.53},{"g":"b","t":7.3,"v":-0.46},{"g":"b","t":7.8,"v":-0.35},{"g":"b","t":8.3,"v":-0.2},{"g":"b","t":8.8,"v":-0.07},{"g":"b","t":9.5,"v":-0.02},
{"g":"c","t":-0.7,"v":0},{"g":"c","t":-0.4,"v":0.02},{"g":"c","t":0,"v":0},{"g":"c","t":0.5,"v":-0.06},{"g":"c","t":1,"v":-0.13},{"g":"c","t":1.5,"v":-0.2},{"g":"c","t":2,"v":-0.25},{"g":"c","t":3,"v":-0.28},{"g":"c","t":4,"v":-0.3},{"g":"c","t":5,"v":-0.33},{"g":"c","t":6,"v":-0.33},{"g":"c","t":7,"v":-0.32},{"g":"c","t":7.5,"v":-0.35},{"g":"c","t":7.8,"v":-0.48},{"g":"c","t":8.2,"v":-0.72},{"g":"c","t":8.6,"v":-0.84},{"g":"c","t":9,"v":-0.8},{"g":"c","t":9.3,"v":-0.65},{"g":"c","t":9.8,"v":-0.54},{"g":"c","t":10.5,"v":-0.46},{"g":"c","t":11,"v":-0.35},{"g":"c","t":11.5,"v":-0.22},{"g":"c","t":12,"v":-0.1},{"g":"c","t":12.5,"v":-0.03}],
"pies":[{"pie":"V1e","k":"Resp only","i":1,"share":0.22},{"pie":"V1e","k":"Delay","i":2,"share":0.06},{"pie":"V1e","k":"Stim+Resp","i":3,"share":0.09},{"pie":"V1e","k":"Stim only","i":4,"share":0.63},
{"pie":"PPCe","k":"Resp only","i":1,"share":0.18},{"pie":"PPCe","k":"Delay","i":2,"share":0.11},{"pie":"PPCe","k":"Stim+Resp","i":3,"share":0.48},{"pie":"PPCe","k":"Stim only","i":4,"share":0.24},
{"pie":"fMCe","k":"Resp only","i":1,"share":0.47},{"pie":"fMCe","k":"Delay","i":2,"share":0.33},{"pie":"fMCe","k":"Stim+Resp","i":3,"share":0.13},{"pie":"fMCe","k":"Stim only","i":4,"share":0.07},
{"pie":"V1s","k":"Delay late","i":1,"share":0.15},{"pie":"V1s","k":"Delay early","i":2,"share":0.85},{"pie":"PPCs","k":"Delay late","i":1,"share":0.46},{"pie":"PPCs","k":"Delay early","i":2,"share":0.54},{"pie":"fMCs","k":"Delay late","i":1,"share":0.77},{"pie":"fMCs","k":"Delay early","i":2,"share":0.23}]
},
"resolve":{"scale":{"x":"independent","y":"independent","color":"independent","theta":"independent"}},
"layer":[
{"data":{"name":"epochs"},"resolve":{"scale":{"color":"independent"}},"layer":[
{"mark":{"type":"rect","stroke":"#444","strokeWidth":1},"encoding":{"x":{"field":"s","type":"quantitative","scale":{"domain":[-0.9,12.7],"range":[73,385],"nice":false,"zero":false},"axis":{"orient":"bottom","offset":-736,"values":[1,3,5,7,9,11],"labels":false,"domain":false,"tickSize":-2,"tickColor":"#3a2000","zindex":1,"title":null}},"x2":{"field":"e"},"y":{"datum":0,"scale":{"domain":[0,1],"range":[16.7,22.3]},"axis":null},"y2":{"datum":1},"color":{"field":"name","type":"nominal","scale":{"domain":["S","D","R"],"range":["#000000","#bdbdbd","#8f3fa0"]},"legend":null}}},
{"mark":{"type":"text","fontSize":15,"fontWeight":"bold"},"encoding":{"x":{"field":"mid","type":"quantitative"},"y":{"datum":-1.55,"axis":null},"text":{"field":"name"},"color":{"field":"name","type":"nominal","scale":{"domain":["S","D","R"],"range":["#000000","#a0a0a0","#7d3f98"]},"legend":null}}}
]},
{"data":{"name":"B"},"mark":"rect","encoding":{"x":{"field":"t","type":"ordinal","axis":null,"scale":{"range":[73,385],"paddingInner":0,"paddingOuter":0}},"y":{"field":"r","type":"ordinal","axis":null,"scale":{"range":[24,79],"paddingInner":0,"paddingOuter":0}},"color":{"field":"v","type":"quantitative","scale":{"domain":[0,100],"range":["#000000","#0a30ff"],"interpolate":"rgb"},"legend":null}}},
{"data":{"name":"C"},"mark":"rect","encoding":{"x":{"field":"t","type":"ordinal","axis":null,"scale":{"range":[73,385],"paddingInner":0,"paddingOuter":0}},"y":{"field":"r","type":"ordinal","axis":null,"scale":{"range":[79,134],"paddingInner":0,"paddingOuter":0}},"color":{"field":"v","type":"quantitative","scale":{"domain":[0,100],"range":["#000000","#10f0f5"],"interpolate":"rgb"},"legend":null}}},
{"data":{"name":"Y"},"mark":"rect","encoding":{"x":{"field":"t","type":"ordinal","axis":null,"scale":{"range":[73,385],"paddingInner":0,"paddingOuter":0}},"y":{"field":"r","type":"ordinal","axis":null,"scale":{"range":[134,155],"paddingInner":0,"paddingOuter":0}},"color":{"field":"v","type":"quantitative","scale":{"domain":[0,100],"range":["#000000","#f5d400"],"interpolate":"rgb"},"legend":null}}},
{"data":{"name":"R"},"mark":"rect","encoding":{"x":{"field":"t","type":"ordinal","axis":null,"scale":{"range":[73,385],"paddingInner":0,"paddingOuter":0}},"y":{"field":"r","type":"ordinal","axis":null,"scale":{"range":[155,199],"paddingInner":0,"paddingOuter":0}},"color":{"field":"v","type":"quantitative","scale":{"domain":[0,100],"range":["#000000","#f50000"],"interpolate":"rgb"},"legend":null}}},
{"data":{"name":"G"},"mark":"rect","encoding":{"x":{"field":"t","type":"ordinal","axis":null,"scale":{"range":[73,385],"paddingInner":0,"paddingOuter":0}},"y":{"field":"r","type":"ordinal","axis":null,"scale":{"range":[204,254],"paddingInner":0,"paddingOuter":0}},"color":{"field":"v","type":"quantitative","scale":{"domain":[0,100],"range":["#000000","#0fa552"],"interpolate":"rgb"},"legend":null}}},
{"data":{"name":"O"},"mark":"rect","encoding":{"x":{"field":"t","type":"ordinal","axis":null,"scale":{"range":[73,385],"paddingInner":0,"paddingOuter":0}},"y":{"field":"r","type":"ordinal","axis":null,"scale":{"range":[254,272],"paddingInner":0,"paddingOuter":0}},"color":{"field":"v","type":"quantitative","scale":{"domain":[0,100],"range":["#000000","#d96c00"],"interpolate":"rgb"},"legend":null}}},
{"layer":[
{"data":{"name":"dh"},"mark":{"type":"rule","color":"#333","strokeWidth":1.3},"encoding":{"x":{"field":"a","type":"quantitative","scale":{"domain":[978,1212],"range":[388,481],"nice":false,"zero":false},"axis":null},"x2":{"field":"b"},"y":{"field":"c","type":"quantitative","scale":{"domain":[0,816],"range":[0,272],"nice":false},"axis":null}}},
{"data":{"name":"dv"},"mark":{"type":"rule","color":"#333","strokeWidth":1.3},"encoding":{"x":{"field":"a","type":"quantitative","axis":null},"y":{"field":"c","type":"quantitative","axis":null},"y2":{"field":"d"}}}
]},
{"data":{"values":[{"label":"Enhanced:","line":0},{"label":"Stim only","line":1},{"label":"Stim+Resp","line":2},{"label":"Delay","line":3},{"label":"Resp only","line":4},{"label":"Suppressed:","line":7.1},{"label":"Delay early","line":8.1},{"label":"Delay late","line":9.1}]},"layer":[
{"mark":{"type":"rect","fill":"white","stroke":"#111","strokeWidth":1.3},"encoding":{"x":{"datum":0,"scale":{"domain":[0,1],"range":[481,583]},"axis":null},"x2":{"datum":0.92},"y":{"datum":-0.526,"scale":{"domain":[0,10],"range":[89,279]},"axis":null},"y2":{"datum":4.526}}},
{"mark":{"type":"rect","fill":"white","stroke":"#111","strokeWidth":1.3},"encoding":{"x":{"datum":0,"axis":null},"x2":{"datum":1},"y":{"datum":6.526,"axis":null},"y2":{"datum":9.684}}},
{"mark":{"type":"text","fontSize":15,"fontWeight":"bold","align":"left"},"encoding":{"x":{"datum":0.03,"axis":null},"y":{"field":"line","type":"quantitative","axis":null},"text":{"field":"label"},"color":{"field":"label","type":"nominal","scale":{"domain":["Enhanced:","Stim only","Stim+Resp","Delay","Resp only","Suppressed:","Delay early","Delay late"],"range":["#000000","#0a20d8","#19e6f0","#e5c116","#c8101a","#000000","#0f8c4a","#c8621a"]},"legend":null}}}
]},
{"layer":[
{"data":{"name":"L1"},"mark":{"type":"line","strokeWidth":1.5,"interpolate":"monotone"},"encoding":{"x":{"field":"t","type":"quantitative","scale":{"domain":[-0.83,12.5],"range":[76.3,189.3],"nice":false,"zero":false},"axis":{"orient":"bottom","offset":-532,"values":[0,5,10],"labels":false,"tickSize":-3,"title":null}},"y":{"field":"v","type":"quantitative","scale":{"domain":[-1,1],"range":[476,366]},"axis":{"orient":"left","offset":-76.3,"values":[-1,-0.5,0,0.5,1],"tickSize":-3,"labelExpr":"datum.value==1?'1':datum.value==0?'0':datum.value==-1?'-1':''","title":null}},"color":{"field":"g","type":"nominal","scale":{"domain":["k","a","b","c"],"range":["#000000","#2a1a7a","#1010a8","#1a1ad8"]},"legend":null}}},
{"data":{"name":"bars"},"mark":{"type":"rect","stroke":"#555","strokeWidth":0.7},"encoding":{"x":{"field":"s","type":"quantitative"},"x2":{"field":"e"},"y":{"datum":-0.24},"y2":{"datum":-0.15},"color":{"field":"g","type":"nominal","legend":null}}},
{"data":{"values":[{"a":1}]},"mark":{"type":"rule","color":"#888"},"encoding":{"x":{"datum":-0.83},"x2":{"datum":12.5},"y":{"datum":0}}},
{"data":{"values":[{"a":1}]},"mark":{"type":"text","fontSize":15.5},"encoding":{"x":{"datum":5.84},"y":{"datum":1.24},"text":{"value":"Stim only (664)"}}}
]},
{"layer":[
{"data":{"name":"L2"},"mark":{"type":"line","strokeWidth":1.5,"interpolate":"monotone"},"encoding":{"x":{"field":"t","type":"quantitative","scale":{"domain":[-0.83,12.5],"range":[225.7,338.7],"nice":false,"zero":false},"axis":{"orient":"bottom","offset":-532,"values":[0,5,10],"labels":false,"tickSize":-3,"title":null}},"y":{"field":"v","type":"quantitative","scale":{"domain":[-1,1],"range":[476,366]},"axis":{"orient":"left","offset":-225.7,"values":[-1,-0.5,0,0.5,1],"tickSize":-3,"labelExpr":"datum.value==1?'1':datum.value==0?'0':datum.value==-1?'-1':''","title":null}},"color":{"field":"g","type":"nominal","scale":{"domain":["k","a","b","c"],"range":["#000000","#0d4f7a","#1b8fd8","#23dccf"]},"legend":null}}},
{"data":{"name":"bars"},"mark":{"type":"rect","stroke":"#555","strokeWidth":0.7},"encoding":{"x":{"field":"s","type":"quantitative"},"x2":{"field":"e"},"y":{"datum":-0.24},"y2":{"datum":-0.15},"color":{"field":"g","type":"nominal","legend":null}}},
{"data":{"values":[{"a":1}]},"mark":{"type":"rule","color":"#888"},"encoding":{"x":{"datum":-0.83},"x2":{"datum":12.5},"y":{"datum":0}}},
{"data":{"values":[{"a":1}]},"mark":{"type":"text","fontSize":15.5},"encoding":{"x":{"datum":5.84},"y":{"datum":1.24},"text":{"value":"Stim+Resp (670)"}}}
]},
{"layer":[
{"data":{"name":"L3"},"mark":{"type":"line","strokeWidth":1.5,"interpolate":"monotone"},"encoding":{"x":{"field":"t","type":"quantitative","scale":{"domain":[-0.83,12.5],"range":[76.3,189.3],"nice":false,"zero":false},"axis":{"orient":"bottom","offset":-389,"values":[0,5,10],"labelPadding":2,"tickSize":-3,"title":null}},"y":{"field":"v","type":"quantitative","scale":{"domain":[-1,1],"range":[619,509]},"axis":{"orient":"left","offset":-76.3,"values":[-1,-0.5,0,0.5,1],"tickSize":-3,"labelExpr":"datum.value==1?'1':datum.value==0?'0':datum.value==-1?'-1':''","title":null}},"color":{"field":"g","type":"nominal","scale":{"domain":["k","a","b","c"],"range":["#000000","#b8900e","#d9b84a","#ffe033"]},"legend":null}}},
{"data":{"name":"bars"},"mark":{"type":"rect","stroke":"#555","strokeWidth":0.7},"encoding":{"x":{"field":"s","type":"quantitative"},"x2":{"field":"e"},"y":{"datum":-0.24},"y2":{"datum":-0.15},"color":{"field":"g","type":"nominal","legend":null}}},
{"data":{"values":[{"a":1}]},"mark":{"type":"rule","color":"#888"},"encoding":{"x":{"datum":-0.83},"x2":{"datum":12.5},"y":{"datum":0}}},
{"data":{"values":[{"a":1}]},"mark":{"type":"text","fontSize":15.5},"encoding":{"x":{"datum":5.84},"y":{"datum":1.22},"text":{"value":"Delay (265)"}}}
]},
{"layer":[
{"data":{"name":"L4"},"mark":{"type":"line","strokeWidth":1.5,"interpolate":"monotone"},"encoding":{"x":{"field":"t","type":"quantitative","scale":{"domain":[-0.83,12.5],"range":[225.7,338.7],"nice":false,"zero":false},"axis":{"orient":"bottom","offset":-389,"values":[0,5,10],"labelPadding":2,"tickSize":-3,"title":null}},"y":{"field":"v","type":"quantitative","scale":{"domain":[-1,1],"range":[619,509]},"axis":{"orient":"left","offset":-225.7,"values":[-1,-0.5,0,0.5,1],"tickSize":-3,"labelExpr":"datum.value==1?'1':datum.value==0?'0':datum.value==-1?'-1':''","title":null}},"color":{"field":"g","type":"nominal","scale":{"domain":["k","a","b","c"],"range":["#000000","#7a3208","#c0301a","#e8102a"]},"legend":null}}},
{"data":{"name":"bars"},"mark":{"type":"rect","stroke":"#555","strokeWidth":0.7},"encoding":{"x":{"field":"s","type":"quantitative"},"x2":{"field":"e"},"y":{"datum":-0.24},"y2":{"datum":-0.15},"color":{"field":"g","type":"nominal","legend":null}}},
{"data":{"values":[{"a":1}]},"mark":{"type":"rule","color":"#888"},"encoding":{"x":{"datum":-0.83},"x2":{"datum":12.5},"y":{"datum":0}}},
{"data":{"values":[{"a":1}]},"mark":{"type":"text","fontSize":15.5},"encoding":{"x":{"datum":5.84},"y":{"datum":1.22},"text":{"value":"Resp only (536)"}}}
]},
{"layer":[
{"data":{"name":"L5"},"mark":{"type":"line","strokeWidth":1.5,"interpolate":"monotone"},"encoding":{"x":{"field":"t","type":"quantitative","scale":{"domain":[-0.86,12.5],"range":[412.7,525.7],"nice":false,"zero":false},"axis":{"orient":"bottom","offset":-532,"values":[0,5,10],"labels":false,"tickSize":-3,"title":null}},"y":{"field":"v","type":"quantitative","scale":{"domain":[-1,1],"range":[476,366]},"axis":{"orient":"left","offset":-412.7,"values":[-1,-0.5,0,0.5,1],"tickSize":-3,"labelExpr":"datum.value==1?'1':datum.value==0?'0':datum.value==-1?'-1':''","title":null}},"color":{"field":"g","type":"nominal","scale":{"domain":["k","a","b","c"],"range":["#000000","#0b5a2a","#169a48","#3cb82c"]},"legend":null}}},
{"data":{"name":"bars"},"mark":{"type":"rect","stroke":"#555","strokeWidth":0.7},"encoding":{"x":{"field":"s","type":"quantitative"},"x2":{"field":"e"},"y":{"datum":0.12},"y2":{"datum":0.21},"color":{"field":"g","type":"nominal","legend":null}}},
{"data":{"values":[{"a":1}]},"mark":{"type":"rule","color":"#888"},"encoding":{"x":{"datum":-0.86},"x2":{"datum":12.5},"y":{"datum":0}}},
{"data":{"values":[{"a":1}]},"mark":{"type":"text","fontSize":15.5},"encoding":{"x":{"datum":6.2},"y":{"datum":1.24},"text":{"value":"Delay early (590)"}}}
]},
{"layer":[
{"data":{"name":"L6"},"mark":{"type":"line","strokeWidth":1.5,"interpolate":"monotone"},"encoding":{"x":{"field":"t","type":"quantitative","scale":{"domain":[-0.86,12.5],"range":[412.7,525.7],"nice":false,"zero":false},"axis":{"orient":"bottom","offset":-389,"values":[0,5,10],"labelPadding":2,"tickSize":-3,"title":null}},"y":{"field":"v","type":"quantitative","scale":{"domain":[-1,1],"range":[619,509]},"axis":{"orient":"left","offset":-412.7,"values":[-1,-0.5,0,0.5,1],"tickSize":-3,"labelExpr":"datum.value==1?'1':datum.value==0?'0':datum.value==-1?'-1':''","title":null}},"color":{"field":"g","type":"nominal","scale":{"domain":["k","a","b","c"],"range":["#000000","#b8660f","#e8981a","#f8c030"]},"legend":null}}},
{"data":{"name":"bars"},"mark":{"type":"rect","stroke":"#555","strokeWidth":0.7},"encoding":{"x":{"field":"s","type":"quantitative"},"x2":{"field":"e"},"y":{"datum":0.12},"y2":{"datum":0.21},"color":{"field":"g","type":"nominal","legend":null}}},
{"data":{"values":[{"a":1}]},"mark":{"type":"rule","color":"#888"},"encoding":{"x":{"datum":-0.86},"x2":{"datum":12.5},"y":{"datum":0}}},
{"data":{"values":[{"a":1}]},"mark":{"type":"text","fontSize":15.5},"encoding":{"x":{"datum":6},"y":{"datum":1.22},"text":{"value":"Delay late (232)"}}}
]},
{"data":{"name":"pies"},"transform":[{"filter":"datum.pie=='V1e'"}],"mark":{"type":"arc","radius":56.5,"stroke":"#333","strokeWidth":0.5},"encoding":{"x":{"datum":0,"scale":{"domain":[-1,1],"range":[30.9,143.9]},"axis":null},"y":{"datum":0,"scale":{"domain":[-1,1],"range":[716.2,829.2]},"axis":null},"theta":{"field":"share","type":"quantitative","stack":true},"order":{"field":"i"},"color":{"field":"k","type":"nominal","scale":{"domain":["Stim only","Stim+Resp","Delay","Resp only"],"range":["#00008b","#00e0ff","#ffcc00","#7a0000"]},"legend":null}}},
{"data":{"name":"pies"},"transform":[{"filter":"datum.pie=='PPCe'"}],"mark":{"type":"arc","radius":56.5,"stroke":"#333","strokeWidth":0.5},"encoding":{"x":{"datum":0,"scale":{"domain":[-1,1],"range":[217.5,330.5]},"axis":null},"y":{"datum":0,"scale":{"domain":[-1,1],"range":[716.2,829.2]},"axis":null},"theta":{"field":"share","type":"quantitative","stack":true},"order":{"field":"i"},"color":{"field":"k","type":"nominal","scale":{"domain":["Stim only","Stim+Resp","Delay","Resp only"],"range":["#00008b","#00e0ff","#ffcc00","#7a0000"]},"legend":null}}},
{"data":{"name":"pies"},"transform":[{"filter":"datum.pie=='fMCe'"}],"mark":{"type":"arc","radius":56.5,"stroke":"#333","strokeWidth":0.5},"encoding":{"x":{"datum":0,"scale":{"domain":[-1,1],"range":[404.5,517.5]},"axis":null},"y":{"datum":0,"scale":{"domain":[-1,1],"range":[716.2,829.2]},"axis":null},"theta":{"field":"share","type":"quantitative","stack":true},"order":{"field":"i"},"color":{"field":"k","type":"nominal","scale":{"domain":["Stim only","Stim+Resp","Delay","Resp only"],"range":["#00008b","#00e0ff","#ffcc00","#7a0000"]},"legend":null}}},
{"data":{"name":"pies"},"transform":[{"filter":"datum.pie=='V1s'"}],"mark":{"type":"arc","radius":56.5,"stroke":"#333","strokeWidth":0.5},"encoding":{"x":{"datum":0,"scale":{"domain":[-1,1],"range":[30.9,143.9]},"axis":null},"y":{"datum":0,"scale":{"domain":[-1,1],"range":[890,1003]},"axis":null},"theta":{"field":"share","type":"quantitative","stack":true},"order":{"field":"i"},"color":{"field":"k","type":"nominal","scale":{"domain":["Delay early","Delay late"],"range":["#0f8a47","#bd751b"]},"legend":null}}},
{"data":{"name":"pies"},"transform":[{"filter":"datum.pie=='PPCs'"}],"mark":{"type":"arc","radius":56.5,"stroke":"#333","strokeWidth":0.5},"encoding":{"x":{"datum":0,"scale":{"domain":[-1,1],"range":[217.5,330.5]},"axis":null},"y":{"datum":0,"scale":{"domain":[-1,1],"range":[890,1003]},"axis":null},"theta":{"field":"share","type":"quantitative","stack":true},"order":{"field":"i"},"color":{"field":"k","type":"nominal","scale":{"domain":["Delay early","Delay late"],"range":["#0f8a47","#bd751b"]},"legend":null}}},
{"data":{"name":"pies"},"transform":[{"filter":"datum.pie=='fMCs'"}],"mark":{"type":"arc","radius":56.5,"stroke":"#333","strokeWidth":0.5},"encoding":{"x":{"datum":0,"scale":{"domain":[-1,1],"range":[404.5,517.5]},"axis":null},"y":{"datum":0,"scale":{"domain":[-1,1],"range":[890,1003]},"axis":null},"theta":{"field":"share","type":"quantitative","stack":true},"order":{"field":"i"},"color":{"field":"k","type":"nominal","scale":{"domain":["Delay early","Delay late"],"range":["#0f8a47","#bd751b"]},"legend":null}}},
{"data":{"values":[{"label":"Stim only","line":0},{"label":"Stim+Resp","line":1},{"label":"Delay","line":2},{"label":"Resp only","line":3}]},"layer":[
{"mark":{"type":"rect","fill":"white","stroke":"#111","strokeWidth":1.3},"encoding":{"x":{"datum":0,"scale":{"domain":[0,1],"range":[521.6,614]},"axis":null},"x2":{"datum":1},"y":{"datum":-0.626,"scale":{"domain":[0,10],"range":[680.7,867.7]},"axis":null},"y2":{"datum":3.636}}},
{"mark":{"type":"text","fontSize":15,"fontWeight":"bold","align":"left"},"encoding":{"x":{"datum":0.065,"axis":null},"y":{"field":"line","type":"quantitative","axis":null},"text":{"field":"label"},"color":{"field":"label","type":"nominal","scale":{"domain":["Stim only","Stim+Resp","Delay","Resp only"],"range":["#0a20d8","#19e6f0","#e5c116","#c8101a"]},"legend":null}}}
]},
{"data":{"values":[{"label":"Delay early","line":0},{"label":"Delay late","line":1}]},"layer":[
{"mark":{"type":"rect","fill":"white","stroke":"#111","strokeWidth":1.3},"encoding":{"x":{"datum":0,"scale":{"domain":[0,1],"range":[522,610]},"axis":null},"x2":{"datum":1},"y":{"datum":-0.575,"scale":{"domain":[0,10],"range":[890.7,1076.7]},"axis":null},"y2":{"datum":1.613}}},
{"mark":{"type":"text","fontSize":15,"fontWeight":"bold","align":"left"},"encoding":{"x":{"datum":0.04,"axis":null},"y":{"field":"line","type":"quantitative","axis":null},"text":{"field":"label"},"color":{"field":"label","type":"nominal","scale":{"domain":["Delay early","Delay late"],"range":["#0f8c4a","#c8621a"]},"legend":null}}}
]},
{"data":{"values":[{"a":1}]},"layer":[
{"mark":{"type":"text","fontSize":20,"fontWeight":"bold"},"encoding":{"x":{"datum":20.6,"scale":{"domain":[0,617],"range":[0,617],"nice":false},"axis":null},"y":{"datum":21,"scale":{"domain":[0,1008],"range":[0,1008],"nice":false},"axis":null},"text":{"value":"A"}}},
{"mark":{"type":"text","fontSize":15,"fontWeight":"bold","angle":270},"encoding":{"x":{"datum":50,"axis":null},"y":{"datum":144,"axis":null},"text":{"value":"Neurons"}}},
{"mark":{"type":"text","fontSize":15,"fontWeight":"bold","align":"right"},"encoding":{"x":{"datum":69,"axis":null},"y":{"datum":27,"axis":null},"text":{"value":"1"}}},
{"mark":{"type":"text","fontSize":15,"fontWeight":"bold","align":"right"},"encoding":{"x":{"datum":69,"axis":null},"y":{"datum":269,"axis":null},"text":{"value":"2957"}}},
{"mark":{"type":"text","fontSize":20,"fontWeight":"bold"},"encoding":{"x":{"datum":21,"axis":null},"y":{"datum":329,"axis":null},"text":{"value":"B"}}},
{"mark":{"type":"text","fontSize":17,"fontWeight":"bold"},"encoding":{"x":{"datum":201.7,"axis":null},"y":{"datum":304,"axis":null},"text":{"value":"Enhanced"}}},
{"mark":{"type":"text","fontSize":17,"fontWeight":"bold"},"encoding":{"x":{"datum":204.5,"axis":null},"y":{"datum":324,"axis":null},"text":{"value":"response types"}}},
{"mark":{"type":"text","fontSize":17,"fontWeight":"bold"},"encoding":{"x":{"datum":469.3,"axis":null},"y":{"datum":304,"axis":null},"text":{"value":"Suppressed"}}},
{"mark":{"type":"text","fontSize":17,"fontWeight":"bold"},"encoding":{"x":{"datum":471.7,"axis":null},"y":{"datum":324,"axis":null},"text":{"value":"response types"}}},
{"mark":{"type":"text","fontSize":17,"angle":270},"encoding":{"x":{"datum":42,"axis":null},"y":{"datum":483,"axis":null},"text":{"value":"Normalized ΔF/F"}}},
{"mark":{"type":"text","fontSize":17,"angle":270},"encoding":{"x":{"datum":378.3,"axis":null},"y":{"datum":483,"axis":null},"text":{"value":"Normalized ΔF/F"}}},
{"mark":{"type":"text","fontSize":19,"fontWeight":"bold"},"encoding":{"x":{"datum":21,"axis":null},"y":{"datum":683,"axis":null},"text":{"value":"C"}}},
{"mark":{"type":"text","fontSize":17,"fontWeight":"bold"},"encoding":{"x":{"datum":278,"axis":null},"y":{"datum":673,"axis":null},"text":{"value":"Enhanced Neurons"}}},
{"mark":{"type":"text","fontSize":17,"fontWeight":"bold"},"encoding":{"x":{"datum":281,"axis":null},"y":{"datum":855,"axis":null},"text":{"value":"Suppressed Neurons"}}},
{"mark":{"type":"text","fontSize":17},"encoding":{"x":{"datum":90,"axis":null},"y":{"datum":695,"axis":null},"text":{"value":"V1 (545)"}}},
{"mark":{"type":"text","fontSize":17},"encoding":{"x":{"datum":274,"axis":null},"y":{"datum":695,"axis":null},"text":{"value":"PPC (1167)"}}},
{"mark":{"type":"text","fontSize":17},"encoding":{"x":{"datum":458,"axis":null},"y":{"datum":695,"axis":null},"text":{"value":"fMC (362)"}}},
{"mark":{"type":"text","fontSize":17},"encoding":{"x":{"datum":90,"axis":null},"y":{"datum":875,"axis":null},"text":{"value":"V1 (624)"}}},
{"mark":{"type":"text","fontSize":17},"encoding":{"x":{"datum":278,"axis":null},"y":{"datum":875,"axis":null},"text":{"value":"PPC (120)"}}},
{"mark":{"type":"text","fontSize":17},"encoding":{"x":{"datum":463,"axis":null},"y":{"datum":875,"axis":null},"text":{"value":"fMC (231)"}}},
{"mark":{"type":"text","fontSize":15.5},"encoding":{"x":{"datum":141,"axis":null},"y":{"datum":721.7,"axis":null},"text":{"value":"22%"}}},
{"mark":{"type":"text","fontSize":15.5},"encoding":{"x":{"datum":158.3,"axis":null},"y":{"datum":770,"axis":null},"text":{"value":"6%"}}},
{"mark":{"type":"text","fontSize":15.5},"encoding":{"x":{"datum":150,"axis":null},"y":{"datum":804,"axis":null},"text":{"value":"9%"}}},
{"mark":{"type":"text","fontSize":15.5},"encoding":{"x":{"datum":16.5,"axis":null},"y":{"datum":798.3,"axis":null},"text":{"value":"63%"}}},
{"mark":{"type":"text","fontSize":15.5},"encoding":{"x":{"datum":320.9,"axis":null},"y":{"datum":716,"axis":null},"text":{"value":"18%"}}},
{"mark":{"type":"text","fontSize":15.5},"encoding":{"x":{"datum":348.4,"axis":null},"y":{"datum":765.7,"axis":null},"text":{"value":"11%"}}},
{"mark":{"type":"text","fontSize":15.5},"encoding":{"x":{"datum":222.4,"axis":null},"y":{"datum":822.7,"axis":null},"text":{"value":"48%"}}},
{"mark":{"type":"text","fontSize":15.5},"encoding":{"x":{"datum":221.3,"axis":null},"y":{"datum":722.7,"axis":null},"text":{"value":"24%"}}},
{"mark":{"type":"text","fontSize":15.5},"encoding":{"x":{"datum":536,"axis":null},"y":{"datum":776.7,"axis":null},"text":{"value":"47%"}}},
{"mark":{"type":"text","fontSize":15.5},"encoding":{"x":{"datum":400,"axis":null},"y":{"datum":810.7,"axis":null},"text":{"value":"33%"}}},
{"mark":{"type":"text","fontSize":15.5},"encoding":{"x":{"datum":402.4,"axis":null},"y":{"datum":730,"axis":null},"text":{"value":"13%"}}},
{"mark":{"type":"text","fontSize":15.5},"encoding":{"x":{"datum":435.4,"axis":null},"y":{"datum":711.7,"axis":null},"text":{"value":"7%"}}},
{"mark":{"type":"text","fontSize":15.5},"encoding":{"x":{"datum":131,"axis":null},"y":{"datum":890.7,"axis":null},"text":{"value":"15%"}}},
{"mark":{"type":"text","fontSize":15.5},"encoding":{"x":{"datum":31.5,"axis":null},"y":{"datum":994.3,"axis":null},"text":{"value":"85%"}}},
{"mark":{"type":"text","fontSize":15.5},"encoding":{"x":{"datum":350.4,"axis":null},"y":{"datum":937.7,"axis":null},"text":{"value":"46%"}}},
{"mark":{"type":"text","fontSize":15.5},"encoding":{"x":{"datum":201.2,"axis":null},"y":{"datum":956.7,"axis":null},"text":{"value":"54%"}}},
{"mark":{"type":"text","fontSize":15.5},"encoding":{"x":{"datum":409.8,"axis":null},"y":{"datum":897.3,"axis":null},"text":{"value":"23%"}}},
{"mark":{"type":"text","fontSize":15.5},"encoding":{"x":{"datum":517.3,"axis":null},"y":{"datum":996.7,"axis":null},"text":{"value":"77%"}}}
]}
]}
